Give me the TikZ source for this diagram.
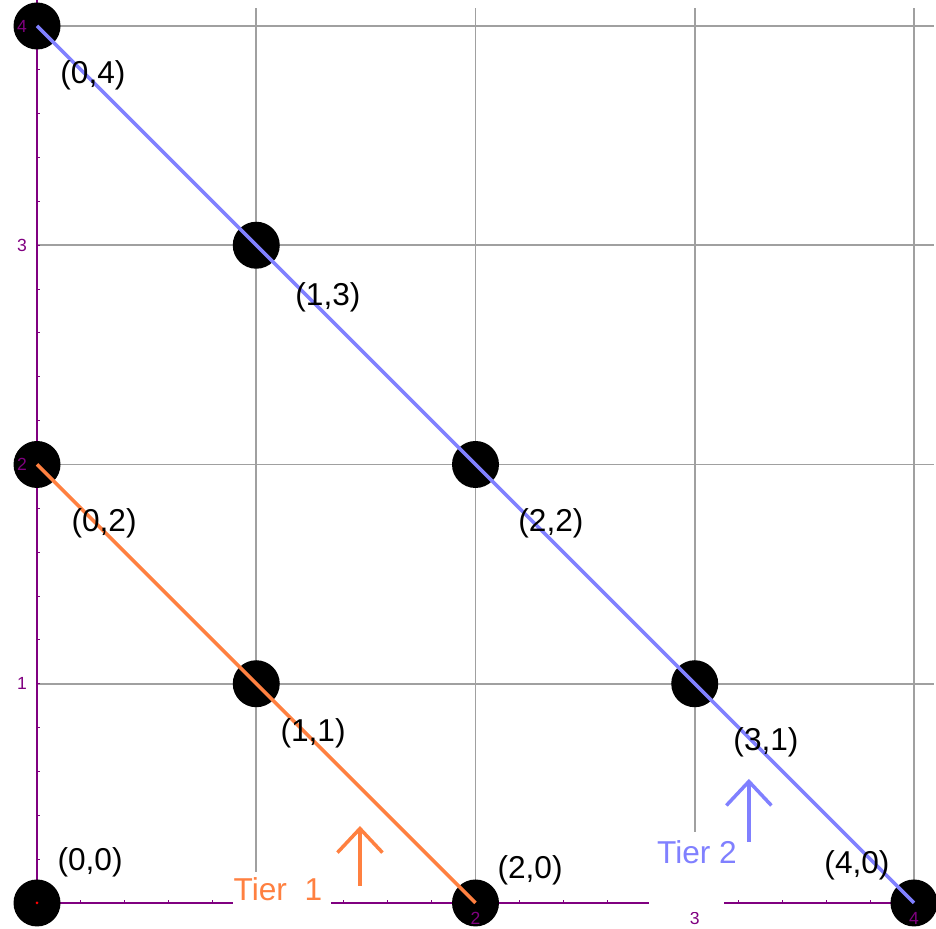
\documentclass[tikz,border=0pt]{standalone}
\usepackage{fontspec}
\setmainfont{Liberation Sans}
\usetikzlibrary{arrows.meta}
\definecolor{tierorange}{RGB}{255,128,64}
\definecolor{tierblue}{RGB}{128,128,255}
\definecolor{axispurple}{RGB}{128,0,128}
\definecolor{gridgray}{RGB}{160,160,160}

\begin{document}
\begin{tikzpicture}[x=4.385cm, y=4.385cm,
  dot/.style={circle, fill=black, inner sep=0pt, minimum size=0.94cm},
  coord/.style={inner sep=0pt, font=\fontsize{18}{20}\selectfont},
  ticklabel/.style={inner sep=0pt, text=axispurple, font=\fontsize{10}{11}\selectfont},
  tiertext/.style={inner sep=0pt, font=\fontsize{18}{20}\selectfont},
  tierarrow/.style={line width=2pt, -{Straight Barb[length=0.48cm, width=0.9cm]}},
  tierline/.style={line width=2pt}]
  \useasboundingbox (-0.1688,-0.1186) rectangle (4.1004,4.1186);

  \foreach \k in {1,...,4} {
    \draw[gridgray, line width=1pt] (\k,0) -- (\k,4.08);
    \draw[gridgray, line width=1pt] (0,\k) -- (4.09,\k);
  }
  \draw[axispurple, line width=0.9pt] (0,0) -- (4.09,0);
  \draw[axispurple, line width=0.9pt] (0,0) -- (0,4.12);
  \foreach \t in {0.2,0.4,...,4.01} {
    \draw[axispurple, line width=0.6pt] (\t,0) -- (\t,0.012);
    \draw[axispurple, line width=0.6pt] (0,\t) -- (0.012,\t);
  }

  \node[dot] (p00) at (0,0) {};
  \node[dot] (p02) at (0,2) {};
  \node[dot] (p11) at (1,1) {};
  \node[dot] (p20) at (2,0) {};
  \node[dot] (p04) at (0,4) {};
  \node[dot] (p13) at (1,3) {};
  \node[dot] (p22) at (2,2) {};
  \node[dot] (p31) at (3,1) {};
  \node[dot] (p40) at (4,0) {};
  \fill[red] (p00.center) circle (0.03cm);

  \foreach \k in {2,3,4}
    \node[ticklabel] (xt\k) at (\k,-0.07) {\k};
  \foreach \k in {1,...,4}
    \node[ticklabel] (yt\k) at (-0.068,\k) {\k};

  \draw[tierline, tierorange] (p02.center) -- (p11.center) -- (p20.center);
  \draw[tierline, tierblue] (p04.center) -- (p13.center) -- (p22.center) -- (p31.center) -- (p40.center);

  \node[coord] (l04) at (0.255,3.776) {(0,4)};
  \node[coord] (l13) at (1.327,2.764) {(1,3)};
  \node[coord] (l22) at (2.344,1.733) {(2,2)};
  \node[coord] (l31) at (3.325,0.734) {(3,1)};
  \node[coord] (l40) at (3.740,0.173) {(4,0)};
  \node[coord] (l00) at (0.242,0.187) {(0,0)};
  \node[coord] (l02) at (0.306,1.733) {(0,2)};
  \node[coord] (l11) at (1.259,0.775) {(1,1)};
  \node[coord] (l20) at (2.249,0.151) {(2,0)};

  \fill[white] (0.894,-0.114) rectangle (1.341,0.141);
  \fill[white] (2.79,-0.041) rectangle (3.134,0.324);
  \node[tiertext, text=tierorange] (tier1) at (1.099,0.064) {Tier~~1};
  \node[tiertext, text=tierblue] (tier2) at (3.01,0.232) {Tier 2};

  \coordinate (up1a) at (1.473,0.0775);
  \coordinate (up1b) at (1.473,0.351);
  \coordinate (up2a) at (3.247,0.278);
  \coordinate (up2b) at (3.247,0.566);
  \draw[tierarrow, tierorange] (up1a) -- (up1b);
  \draw[tierarrow, tierblue] (up2a) -- (up2b);
\end{tikzpicture}
\end{document}
